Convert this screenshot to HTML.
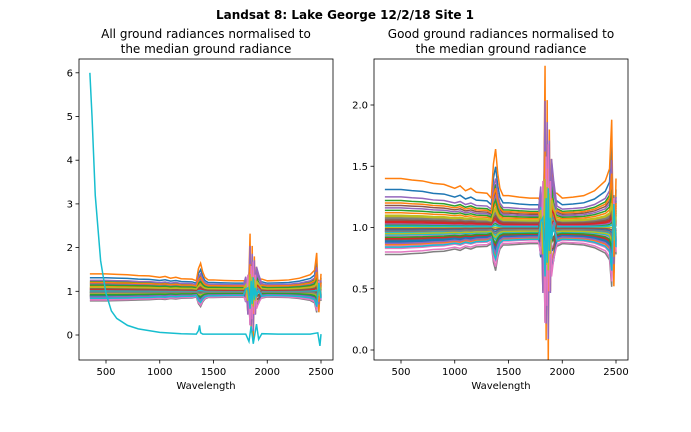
<!DOCTYPE html>
<html><head><meta charset="utf-8"><style>
body{margin:0;background:#fff;}
svg{display:block;font-family:"DejaVu Sans","Liberation Sans",sans-serif;}
</style></head><body>
<svg id="c" width="691" height="432">
<defs>
<clipPath id="clipL"><rect x="79" y="59" width="254" height="301"/></clipPath>
<clipPath id="clipR"><rect x="374" y="59" width="254" height="301"/></clipPath>
</defs>
<text x="345" y="19" text-anchor="middle" font-size="12" font-weight="bold">Landsat 8: Lake George 12/2/18 Site 1</text>
<text x="206" y="38" text-anchor="middle" font-size="12">All ground radiances normalised to</text>
<text x="206" y="53" text-anchor="middle" font-size="12">the median ground radiance</text>
<text x="501" y="38" text-anchor="middle" font-size="12">Good ground radiances normalised to</text>
<text x="501" y="53" text-anchor="middle" font-size="12">the median ground radiance</text>
<g id="gL" clip-path="url(#clipL)"></g>
<g id="gR" clip-path="url(#clipR)"></g>
<g id="axes"></g>
</svg>
<script>
const wl=[350,400,500,600,700,800,900,1000,1050,1100,1150,1200,1300,1340,1360,1380,1400,1420,1450,1500,1600,1700,1780,1800,1820,1840,1850,1860,1870,1880,1890,1900,1920,1950,2000,2100,2200,2300,2400,2440,2460,2480,2500];
const shape=[1,1,1,0.97,0.95,0.9,0.88,0.8,0.85,0.75,0.8,0.72,0.7,0.6,1.3,1.6,1.1,0.8,0.65,0.65,0.62,0.6,0.6,0.7,-1.5,3.5,-2.5,2.8,-3,2.2,-1.5,1.6,0.9,0.7,0.6,0.62,0.65,0.75,0.95,1.2,2.2,-1.2,1];
const levels=[1.31,1.40,1.22,1.05,1.25,1.18,0.93,0.78,1.10,0.96,0.88,1.12,1.02,0.97,1.16,0.90,0.85,1.07,1.00,0.94,0.98,0.86,1.14,0.91,1.03,0.99,0.83,1.08,0.95,1.01,0.89,1.20,0.92,1.04,0.87,1.06,0.80,0.97,1.09,0.84];
const outWl=[350,370,400,450,500,550,600,700,800,900,1000,1200,1340,1360,1370,1380,1400,1800,1830,1850,1870,1900,1920,1950,2100,2400,2470,2490,2500];
const outVal=[6.0,5.0,3.2,1.7,0.95,0.55,0.38,0.22,0.14,0.1,0.06,0.03,0.02,0.1,0.22,0.05,0.02,0.02,-0.15,0.2,-0.2,0.25,-0.1,0.03,0.02,0.02,0.05,-0.25,0.02];
const yTicksL=[0,1,2,3,4,5,6];
const yTicksR=[0,0.5,1.0,1.5,2.0];
const xTicks=[500,1000,1500,2000,2500];
const colors=["#1f77b4","#ff7f0e","#2ca02c","#d62728","#9467bd","#8c564b","#e377c2","#7f7f7f","#bcbd22","#17becf"];
const xL=w=>106+(w-500)*0.1075, xR=w=>401+(w-500)*0.1075;
const yL=v=>335-v*43.7, yR=v=>350-v*122.5;
const NS="http://www.w3.org/2000/svg";
function mk(t,a,p){const e=document.createElementNS(NS,t);for(const k in a)e.setAttribute(k,a[k]);p.appendChild(e);return e;}
const gL=document.getElementById('gL'),gR=document.getElementById('gR'),ax=document.getElementById('axes');
levels.forEach((s,i)=>{
  const vals=wl.map((w,j)=>1+(s-1)*shape[j]+(j>=23&&j<=32?((i%5)-2)*0.08*Math.sign(shape[j]):0));
  const c=colors[i%10];
  const pl=mk('polyline',{points:wl.map((w,j)=>xL(w)+','+yL(vals[j])).join(' '),fill:'none',stroke:c,'stroke-width':1.5},gL);
  
  
  const pr=mk('polyline',{points:wl.map((w,j)=>xR(w)+','+yR(vals[j])).join(' '),fill:'none',stroke:c,'stroke-width':1.5},gR);
  
  
});
const po=mk('polyline',{points:outWl.map((w,j)=>xL(w)+','+yL(outVal[j])).join(' '),fill:'none',stroke:'#17becf','stroke-width':1.5},gL);


function axis(x0,xf,yf,yt,name){
  const r=mk('rect',{x:x0,y:59,width:254,height:301,fill:'none',stroke:'#000','stroke-width':0.8},ax);
  
  
  xTicks.forEach(t=>{const x=xf(t);mk('line',{x1:x,x2:x,y1:360,y2:363.5,stroke:'#000','stroke-width':0.8},ax);
    const tx=mk('text',{x:x,y:375,'text-anchor':'middle','font-size':10},ax);tx.textContent=t;
    
    });
  yt.forEach(t=>{const y=yf(t);mk('line',{x1:x0,x2:x0-3.5,y1:y,y2:y,stroke:'#000','stroke-width':0.8},ax);
    const tx=mk('text',{x:x0-6,y:y+3.5,'text-anchor':'end','font-size':10},ax);tx.textContent=(name==='right'?t.toFixed(1):t);
    
    });
  const xl=mk('text',{x:x0+127,y:389,'text-anchor':'middle','font-size':10},ax);xl.textContent='Wavelength';
  
  
}
axis(79,xL,yL,yTicksL,'left');
axis(374,xR,yR,yTicksR,'right');
</script>
</body></html>
